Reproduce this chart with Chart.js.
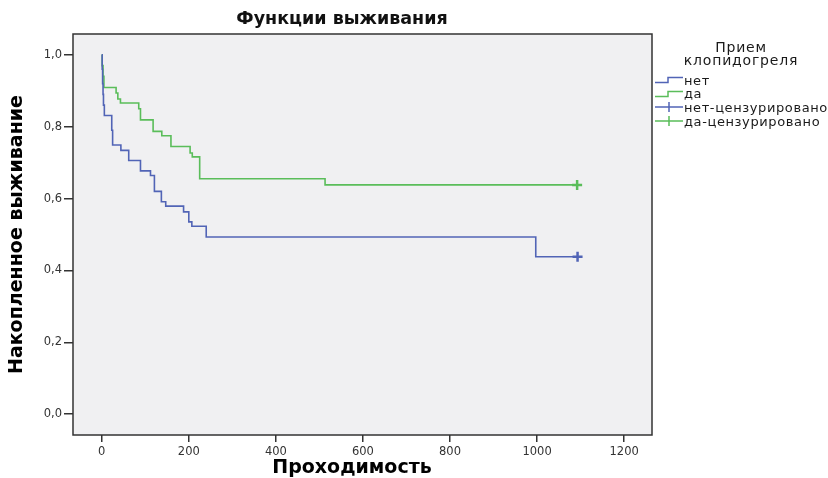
<!DOCTYPE html>
<html>
<head>
<meta charset="utf-8">
<script src="https://cdn.jsdelivr.net/npm/chart.js@4/dist/chart.umd.min.js"></script>
<style>
  html, body { margin: 0; padding: 0; background: #fff; }
  #wrap { position: relative; width: 828px; height: 478px; font-family: "DejaVu Sans", sans-serif; }
  #title { position: absolute; left: 0; width: 684px; top: 8px; text-align: center; font-size: 17.5px; font-weight: bold; color: #111; }
  #xtitle { position: absolute; left: 0; width: 704px; top: 455px; text-align: center; font-size: 19px; font-weight: bold; color: #000; }
  #legend { position: absolute; left: 655px; top: 39px; color: #1a1a1a; }
  #legend .ttl { position: absolute; left: 0; width: 172px; text-align: center; font-size: 14px; line-height: 13px; letter-spacing: 0.8px; top: 2px; }
  #legend .item { position: absolute; left: 0; height: 14px; display: flex; align-items: center; font-size: 13px; letter-spacing: 0.6px; white-space: nowrap; }
  #legend svg { width: 28px; height: 12px; margin-right: 1px; flex: none; }
</style>
</head>
<body>
<div id="wrap">
  <canvas id="km" width="828" height="478"></canvas>
  <div id="title">Функции выживания</div>
  <div id="xtitle">Проходимость</div>
  <div id="legend"></div>
</div>
<script>
// Kaplan-Meier curves (time in days, cumulative survival)
const netTimes = [0, 1, 2, 3, 4, 6, 23, 25, 44, 62, 89, 112, 121, 137, 147, 188, 200, 207, 240, 997, 1093];
const netSurv  = [1.0, 0.96, 0.92, 0.89, 0.86, 0.831, 0.79, 0.749, 0.734, 0.706, 0.677, 0.664, 0.620, 0.591, 0.579, 0.563, 0.535, 0.523, 0.493, 0.438, 0.438];
const daTimes  = [0, 1, 3, 5, 33, 37, 43, 85, 89, 118, 138, 159, 203, 208, 225, 513, 1092];
const daSurv   = [1.0, 0.97, 0.94, 0.909, 0.894, 0.877, 0.866, 0.850, 0.819, 0.787, 0.775, 0.745, 0.727, 0.716, 0.655, 0.638, 0.638];
const netCensorTimes = [1093];
const netCensorSurv  = [0.438];
const daCensorTimes  = [1092];
const daCensorSurv   = [0.638];

const xTickValues = [0, 200, 400, 600, 800, 1000, 1200];
const yTickValues = [0, 0.2, 0.4, 0.6, 0.8, 1.0];

const legendTitle = ['Прием', 'клопидогреля'];
const groupLabels = ['нет', 'да', 'нет-цензурировано', 'да-цензурировано'];

const BLUE = '#5164b6';
const GREEN = '#5abd5a';

const toPoints = (xs, ys) => xs.map((x, i) => ({ x, y: ys[i] }));

const plotFrame = {
  id: 'plotFrame',
  beforeDatasetsDraw(chart) {
    const { ctx, chartArea: a } = chart;
    ctx.save();
    ctx.fillStyle = '#f0f0f2';
    ctx.fillRect(a.left, a.top, a.width, a.height);
    ctx.strokeStyle = '#333';
    ctx.lineWidth = 1.5;
    ctx.strokeRect(a.left, a.top, a.width, a.height);
    ctx.restore();
  }
};

const font = { family: '"DejaVu Sans", sans-serif' };

new Chart(document.getElementById('km'), {
  type: 'line',
  data: {
    datasets: [
      { label: groupLabels[0], data: toPoints(netTimes, netSurv), borderColor: BLUE, borderWidth: 1.6, stepped: 'before', pointRadius: 0, fill: false },
      { label: groupLabels[1], data: toPoints(daTimes, daSurv), borderColor: GREEN, borderWidth: 1.6, stepped: 'before', pointRadius: 0, fill: false },
      { label: groupLabels[2], data: toPoints(netCensorTimes, netCensorSurv), showLine: false, pointStyle: 'cross', pointRadius: 5, borderWidth: 2.5, borderColor: BLUE },
      { label: groupLabels[3], data: toPoints(daCensorTimes, daCensorSurv), showLine: false, pointStyle: 'cross', pointRadius: 5, borderWidth: 2.5, borderColor: GREEN },
    ]
  },
  options: {
    responsive: false,
    animation: false,
    layout: { padding: { top: 34, right: 176, left: 0, bottom: 0 } },
    plugins: { legend: { display: false }, tooltip: { enabled: false } },
    scales: {
      x: {
        type: 'linear',
        min: -66, max: 1264,
        afterBuildTicks: s => { s.ticks = xTickValues.map(v => ({ value: v })); },
        afterFit: s => { s.height = 43; },
        grid: { drawOnChartArea: false, tickLength: 7, color: '#333', lineWidth: 1.5 },
        border: { display: false },
        ticks: { padding: 3, color: '#333', font: { ...font, size: 11.5 }, callback: v => String(v) },
        title: { display: false }
      },
      y: {
        min: -0.058, max: 1.058,
        afterBuildTicks: s => { s.ticks = yTickValues.map(v => ({ value: v })); },
        afterFit: s => { s.width = 73; },
        grid: { drawOnChartArea: false, tickLength: 9, color: '#333', lineWidth: 1.5 },
        border: { display: false },
        ticks: { padding: 2, color: '#333', font: { ...font, size: 11.5 }, callback: v => v.toFixed(1).replace('.', ',') },
        title: { display: true, text: 'Накопленное выживание', color: '#000', font: { ...font, size: 19, weight: 'bold' }, padding: { top: 6, bottom: 0 } }
      }
    }
  },
  plugins: [plotFrame]
});

// legend, drawn as html next to the plot
const legend = document.getElementById('legend');
legend.innerHTML = `<div class="ttl">${legendTitle.join('<br>')}</div>`;
const stepGlyph = c => `<svg viewBox="0 0 28 12"><path d="M0 8.5H13V3.5H28" fill="none" stroke="${c}" stroke-width="1.5"/></svg>`;
const crossGlyph = c => `<svg viewBox="0 0 28 12"><path d="M0 6H28M14 1V11" fill="none" stroke="${c}" stroke-width="1.5"/></svg>`;
const glyphs = [stepGlyph, stepGlyph, crossGlyph, crossGlyph];
const colors = [BLUE, GREEN, BLUE, GREEN];
groupLabels.forEach((lbl, i) => {
  const d = document.createElement('div');
  d.className = 'item';
  d.style.top = (34 + i * 13.7) + 'px';
  d.innerHTML = glyphs[i](colors[i]) + `<span>${lbl}</span>`;
  legend.appendChild(d);
});
</script>
</body>
</html>
